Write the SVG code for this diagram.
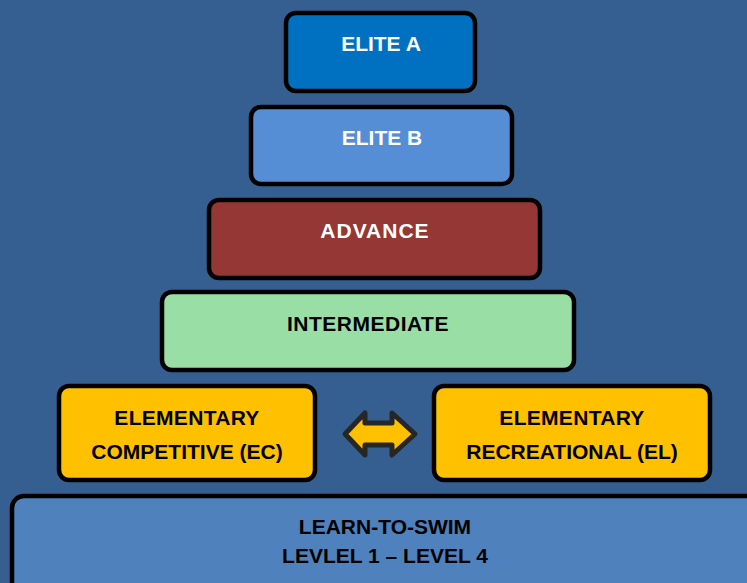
<svg xmlns="http://www.w3.org/2000/svg" width="747" height="583" viewBox="0 0 747 583">
<style>
.box{stroke:#000;stroke-width:4.5}
.t{font-family:"Liberation Sans",Arial,sans-serif;font-weight:bold;font-size:21px;text-anchor:middle}
.w{fill:#fff}
.k{fill:#000}
</style>
<rect x="0" y="0" width="747" height="583" fill="#345f90"/>
<g id="elite-a">
<rect class="box" x="286" y="13" width="189" height="78" rx="10" fill="#0070c0"/>
<text class="t w" x="381" y="51">ELITE A</text>
</g>
<g id="elite-b">
<rect class="box" x="251" y="107" width="261" height="77" rx="10" fill="#558ed5"/>
<text class="t w" x="382" y="145">ELITE B</text>
</g>
<g id="advance">
<rect class="box" x="209" y="200" width="331" height="78" rx="10" fill="#953735"/>
<text class="t w" x="375" y="238" letter-spacing="1">ADVANCE</text>
</g>
<g id="intermediate">
<rect class="box" x="162" y="292" width="412" height="78" rx="10" fill="#99dfa5"/>
<text class="t k" x="368" y="331" letter-spacing="0.5">INTERMEDIATE</text>
</g>
<g id="elementary-competitive">
<rect class="box" x="59" y="386" width="256" height="94" rx="10" fill="#ffc000"/>
<text class="t k" x="187" y="425" letter-spacing="0.3">ELEMENTARY</text>
<text class="t k" x="187" y="459">COMPETITIVE (EC)</text>
</g>
<g id="elementary-recreational">
<rect class="box" x="434" y="386" width="276" height="94" rx="10" fill="#ffc000"/>
<text class="t k" x="572" y="425" letter-spacing="0.3">ELEMENTARY</text>
<text class="t k" x="572" y="459">RECREATIONAL (EL)</text>
</g>
<g id="learn-to-swim">
<rect class="box" x="12" y="496" width="750" height="100" rx="12" fill="#4f81bd"/>
<text class="t k" x="385" y="534">LEARN-TO-SWIM</text>
<text class="t k" x="385" y="563">LEVLEL 1 – LEVEL 4</text>
</g>
<g id="connectors">
<path d="M345,434 L365,413 L365,423 L392,423 L392,413 L415,434 L392,455 L392,445 L365,445 L365,455 Z" fill="#ffc000" stroke="#262626" stroke-width="5" stroke-linejoin="round"/>
</g>
</svg>
